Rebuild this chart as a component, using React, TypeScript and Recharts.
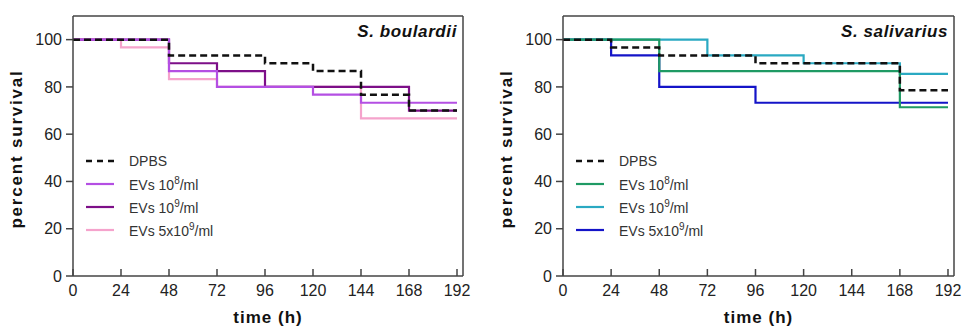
import React from 'react';
import { LineChart, Line, XAxis, YAxis, Legend, Label } from 'recharts';

// ─── Data ─────────────────────────────────────────────────────────────────────

const times = [0, 24, 48, 72, 96, 120, 144, 168, 192];
const xTicks = [0, 24, 48, 72, 96, 120, 144, 168, 192];
const yTicks = [0, 20, 40, 60, 80, 100];

// S. boulardii (percent survival, step starts at each time point)
const dpbsBoulardii = [100, 100, 93.3, 93.3, 90, 86.7, 76.7, 70, 70];
const ev8Boulardii = [100, 100, 86.7, 80, 80, 76.7, 73.3, 73.3, 73.3];
const ev9Boulardii = [100, 100, 90, 86.7, 80, 80, 80, 70, 70];
const ev5Boulardii = [100, 96.7, 83.3, 80, 80, 80, 66.7, 66.7, 66.7];

// S. salivarius
const dpbsSalivarius = [100, 96.7, 93.3, 93.3, 90, 90, 90, 78.6, 78.6];
const ev8Salivarius = [100, 100, 86.7, 86.7, 86.7, 86.7, 86.7, 71.4, 71.4];
const ev9Salivarius = [100, 100, 100, 93.3, 93.3, 90, 90, 85.5, 85.5];
const ev5Salivarius = [100, 93.3, 80, 80, 73.3, 73.3, 73.3, 73.3, 73.3];

const FONT = '"Liberation Sans", Arial, Helvetica, sans-serif';
const AXIS_COLOR = '#444';

// ─── Types ────────────────────────────────────────────────────────────────────

interface SeriesDef {
  key: string;
  base: string;
  sup?: string;
  tail?: string;
  color: string;
  dashed?: boolean;
  values: number[];
}

interface PanelProps {
  title: string;
  series: SeriesDef[]; // legend order
  drawOrder: string[]; // bottom -> top
  width: number;
  plotLeft: number;
  marginRight: number;
}

// ─── Pieces ───────────────────────────────────────────────────────────────────

function LegendBox({ series }: { series: SeriesDef[] }) {
  return (
    <div style={{ fontFamily: FONT, fontSize: 14, color: '#333' }}>
      {series.map((s) => (
        <div key={s.key} style={{ display: 'flex', alignItems: 'center', height: 23 }}>
          <svg width={28} height={6} style={{ display: 'block' }}>
            <line
              x1={0}
              y1={3}
              x2={28}
              y2={3}
              stroke={s.color}
              strokeWidth={s.dashed ? 2.5 : 2.2}
              strokeDasharray={s.dashed ? '6 5' : undefined}
            />
          </svg>
          <span style={{ marginLeft: 15, whiteSpace: 'nowrap' }}>
            {s.base}
            {s.sup && <sup style={{ fontSize: 10 }}>{s.sup}</sup>}
            {s.tail}
          </span>
        </div>
      ))}
    </div>
  );
}

function Panel({ title, series, drawOrder, width, plotLeft, marginRight }: PanelProps) {
  const data = times.map((t, i) => {
    const row: Record<string, number> = { t };
    series.forEach((s) => {
      row[s.key] = s.values[i];
    });
    return row;
  });
  const byKey = Object.fromEntries(series.map((s) => [s.key, s]));

  return (
    <LineChart
      width={width}
      height={327}
      data={data}
      margin={{ top: 15, right: marginRight, bottom: 0, left: 0 }}
      style={{ fontFamily: FONT }}
    >
      <XAxis
        dataKey="t"
        type="number"
        domain={[0, 195]}
        ticks={xTicks}
        height={51}
        tickSize={-7}
        tickMargin={16}
        stroke={AXIS_COLOR}
        strokeWidth={1.5}
        tick={{ fill: '#222', fontSize: 16 }}
      >
        <Label
          content={({ viewBox }: any) => (
            <text
              x={viewBox.x + viewBox.width / 2}
              y={323}
              textAnchor="middle"
              fontSize={17}
              fontWeight="bold"
              letterSpacing={1}
              fill="#111"
            >
              time (h)
            </text>
          )}
        />
      </XAxis>
      <XAxis
        xAxisId="top"
        orientation="top"
        dataKey="t"
        type="number"
        domain={[0, 195]}
        height={1}
        tick={false}
        tickLine={false}
        stroke={AXIS_COLOR}
        strokeWidth={1.5}
      >
        <Label
          content={({ viewBox }: any) => (
            <text
              x={viewBox.x + viewBox.width - 6}
              y={viewBox.y + 22}
              textAnchor="end"
              fontSize={17}
              fontWeight="bold"
              fontStyle="italic"
              letterSpacing={0.6}
              fill="#111"
            >
              {title}
            </text>
          )}
        />
      </XAxis>
      <YAxis
        type="number"
        domain={[0, 110]}
        ticks={yTicks}
        width={plotLeft}
        tickSize={7}
        tickMargin={4}
        stroke={AXIS_COLOR}
        strokeWidth={1.5}
        tick={{ fill: '#222', fontSize: 16 }}
      >
        <Label
          content={({ viewBox }: any) => {
            const x = viewBox.x + viewBox.width - 57;
            const y = viewBox.y + viewBox.height / 2 + 3;
            return (
              <text
                x={x}
                y={y}
                transform={`rotate(-90 ${x} ${y})`}
                textAnchor="middle"
                dominantBaseline="central"
                fontSize={17}
                fontWeight="bold"
                letterSpacing={1.8}
                fill="#111"
              >
                percent survival
              </text>
            );
          }}
        />
      </YAxis>
      <YAxis
        yAxisId="right"
        orientation="right"
        type="number"
        domain={[0, 110]}
        width={1}
        tick={false}
        tickLine={false}
        stroke={AXIS_COLOR}
        strokeWidth={1.5}
      />
      <Legend
        layout="vertical"
        align="center"
        verticalAlign="middle"
        content={() => <LegendBox series={series} />}
        wrapperStyle={{ left: plotLeft + 13, top: 149, width: 200 }}
      />
      {drawOrder.map((k) => {
        const s = byKey[k];
        return (
          <Line
            key={s.key}
            type="stepAfter"
            dataKey={s.key}
            name={s.key}
            stroke={s.color}
            strokeWidth={s.dashed ? 2.5 : 2.2}
            strokeDasharray={s.dashed ? '7 4' : undefined}
            dot={false}
            activeDot={false}
            isAnimationActive={false}
          />
        );
      })}
    </LineChart>
  );
}

// ─── Series configs ───────────────────────────────────────────────────────────

const boulardiiSeries: SeriesDef[] = [
  { key: 'dpbs', base: 'DPBS', color: '#111', dashed: true, values: dpbsBoulardii },
  { key: 'ev8', base: 'EVs 10', sup: '8', tail: '/ml', color: '#B44FE3', values: ev8Boulardii },
  { key: 'ev9', base: 'EVs 10', sup: '9', tail: '/ml', color: '#7D0F88', values: ev9Boulardii },
  { key: 'ev5', base: 'EVs 5x10', sup: '9', tail: '/ml', color: '#F5A3CC', values: ev5Boulardii },
];

const salivariusSeries: SeriesDef[] = [
  { key: 'dpbs', base: 'DPBS', color: '#111', dashed: true, values: dpbsSalivarius },
  { key: 'ev8', base: 'EVs 10', sup: '8', tail: '/ml', color: '#1F9A64', values: ev8Salivarius },
  { key: 'ev9', base: 'EVs 10', sup: '9', tail: '/ml', color: '#2AA9C2', values: ev9Salivarius },
  { key: 'ev5', base: 'EVs 5x10', sup: '9', tail: '/ml', color: '#1414C8', values: ev5Salivarius },
];

export default function App() {
  return (
    <div style={{ position: 'absolute', left: 0, top: 0, display: 'flex', background: '#fff' }}>
      <Panel
        title="S. boulardii"
        series={boulardiiSeries}
        drawOrder={['ev5', 'ev9', 'ev8', 'dpbs']}
        width={480}
        plotLeft={73}
        marginRight={16}
      />
      <Panel
        title="S. salivarius"
        series={salivariusSeries}
        drawOrder={['ev5', 'ev9', 'ev8', 'dpbs']}
        width={482}
        plotLeft={83}
        marginRight={7}
      />
    </div>
  );
}
